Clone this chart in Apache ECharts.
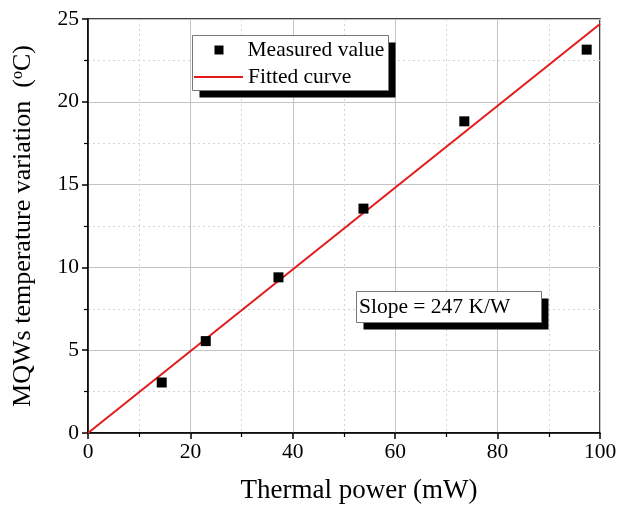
<!DOCTYPE html>
<html>
<head>
<meta charset="utf-8">
<script src="https://cdn.jsdelivr.net/npm/echarts@6/dist/echarts.min.js"></script>
<style>html,body{margin:0;padding:0;background:#fff;}#c{width:622px;height:506px;}</style>
</head>
<body>
<div id="c"></div>
<script>
const powerMW = [14.4, 23.0, 37.2, 53.8, 73.5, 97.4];
const tempVar = [3.05, 5.55, 9.4, 13.55, 18.82, 23.15];
const fitX = [0, 100];
const fitY = [0, 24.7];
const slopeLabel = 'Slope = 247 K/W';
const xTitle = 'Thermal power (mW)';
const serif = '"Liberation Serif", "Times New Roman", serif';

function shadowBox(x, y, w, h, off) {
  return [
    { type: 'rect', z: 5, shape: { x: x + off, y: y + off, width: w, height: h }, style: { fill: '#000' } },
    { type: 'rect', z: 6, shape: { x: x, y: y, width: w, height: h }, style: { fill: '#fff', stroke: '#777', lineWidth: 1 } }
  ];
}

const chart = echarts.init(document.getElementById('c'));
chart.setOption({
  animation: false,
  backgroundColor: '#fff',
  grid: { left: 88, right: 22, top: 19, bottom: 73, outerBoundsMode: 'none', containLabel: false, show: true, borderColor: '#000', borderWidth: 1.5, backgroundColor: 'transparent' },
  graphic: [
    ...shadowBox(192.5, 35.5, 196, 55, 7),
    ...shadowBox(356.5, 291.5, 185, 31, 7),
    { type: 'text', z: 7, x: 359, y: 307, style: { text: slopeLabel, font: '21.5px ' + serif, fill: '#000', textVerticalAlign: 'middle' } }
  ],
  legend: [
    {
      z: 10, left: 214.5, top: 39, padding: 0,
      itemWidth: 9, itemHeight: 9,
      textStyle: { fontFamily: serif, fontSize: 21.5, color: '#000', padding: [0, 0, 0, 19] },
      data: [{ name: 'Measured value', icon: 'rect', itemStyle: { color: '#000', opacity: 1 } }]
    },
    {
      z: 10, left: 194, top: 66, padding: 0,
      itemWidth: 49, itemHeight: 2,
      textStyle: { fontFamily: serif, fontSize: 21.5, color: '#000', padding: [0, 0, 0, 0] },
      data: [{ name: 'Fitted curve', icon: 'rect', itemStyle: { color: '#e31a1c' } }]
    }
  ],
  xAxis: {
    type: 'value', min: 0, max: 100, interval: 20,
    name: xTitle, nameLocation: 'middle', nameGap: 44,
    nameTextStyle: { fontFamily: serif, fontSize: 27, color: '#000', padding: [0, 0, 0, 30] },
    axisLine: { show: true, lineStyle: { color: '#000', width: 1.5 } },
    axisTick: { show: true, length: 6, inside: false, lineStyle: { color: '#000', width: 1.5 } },
    minorTick: { show: true, splitNumber: 2, length: 4, lineStyle: { color: '#000', width: 1.2 } },
    axisLabel: { fontFamily: serif, fontSize: 21.5, color: '#000', margin: 8 },
    splitLine: { show: true, lineStyle: { color: '#c4c4c4', width: 1 } },
    minorSplitLine: { show: true, lineStyle: { color: '#d4d4d4', width: 1, type: [2, 3] } }
  },
  yAxis: {
    type: 'value', min: 0, max: 25, interval: 5,
    name: 'MQWs temperature variation  ({sup|o}C)', nameLocation: 'middle', nameGap: 52,
    nameTextStyle: { fontFamily: serif, fontSize: 26, color: '#000',
      rich: { sup: { fontFamily: serif, fontSize: 16, color: '#000', verticalAlign: 'top', padding: [0, 0, 10, 0] } } },
    axisLine: { show: true, lineStyle: { color: '#000', width: 1.5 } },
    axisTick: { show: true, length: 6, inside: false, lineStyle: { color: '#000', width: 1.5 } },
    minorTick: { show: true, splitNumber: 2, length: 4, lineStyle: { color: '#000', width: 1.2 } },
    axisLabel: { fontFamily: serif, fontSize: 21.5, color: '#000', margin: 9 },
    splitLine: { show: true, lineStyle: { color: '#c4c4c4', width: 1 } },
    minorSplitLine: { show: true, lineStyle: { color: '#d4d4d4', width: 1, type: [2, 3] } }
  },
  series: [
    {
      name: 'Fitted curve', type: 'line', showSymbol: false, symbol: 'none',
      data: fitX.map((x, i) => [x, fitY[i]]),
      lineStyle: { color: '#e31a1c', width: 2 }, itemStyle: { color: '#e31a1c' }, z: 2
    },
    {
      name: 'Measured value', type: 'scatter', symbol: 'rect', symbolSize: 10,
      data: powerMW.map((x, i) => [x, tempVar[i]]),
      itemStyle: { color: '#000', opacity: 1 }, z: 3
    }
  ]
});
</script>
</body>
</html>
